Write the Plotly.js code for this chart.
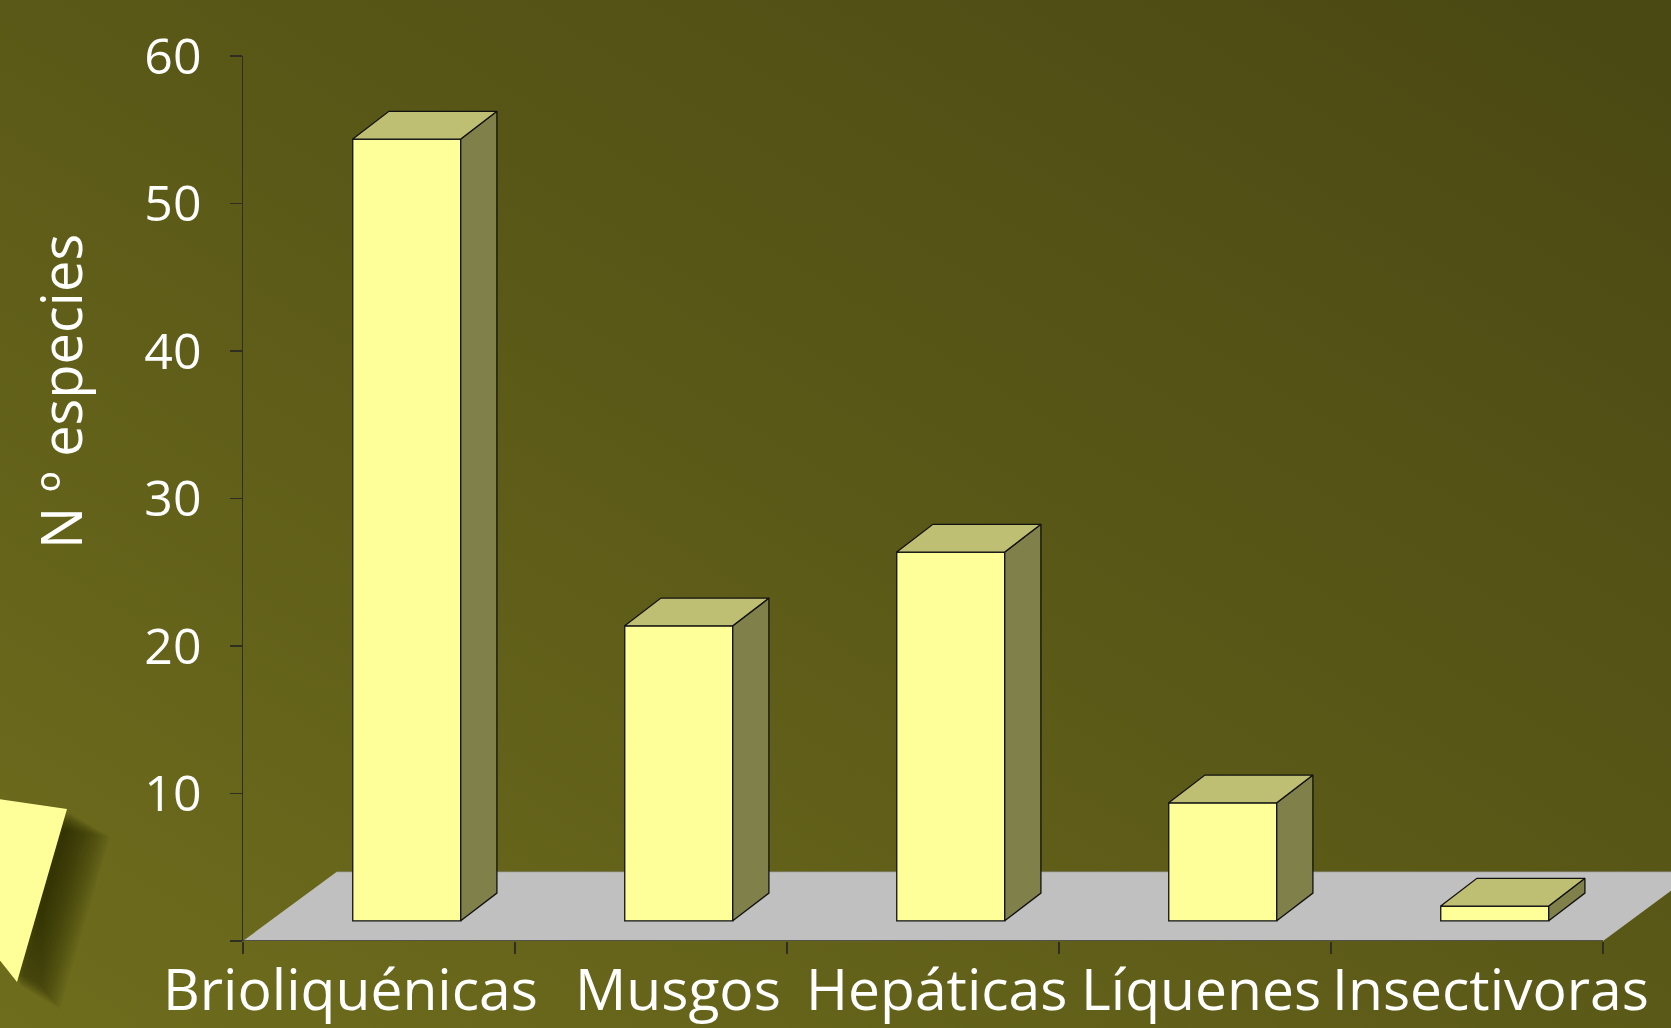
<!DOCTYPE html>
<html>
<head>
<meta charset="utf-8">
<script src="https://cdn.plot.ly/plotly-3.0.1.min.js"></script>
<style>
  html, body { margin:0; padding:0; width:1671px; height:1028px; overflow:hidden; }
  body { background: linear-gradient(to top right, #6e6d1d 0%, #5b5917 50%, #4a4813 100%); }
  #chart { width:1671px; height:1028px; }
</style>
</head>
<body>
<div id="chart"></div>
<script>
// ---- data ----
const categories = ['Brioliquénicas', 'Musgos', 'Hepáticas', 'Líquenes', 'Insectivoras'];
const values = [53, 20, 25, 8, 1];
const yTickVals = [0, 10, 20, 30, 40, 50, 60];
const yTickText = ['', '10', '20', '30', '40', '50', '60'];
const yTitle = 'N º especies';

// ---- 3-D look (oblique projection, in axis units) ----
const G = { frontDx: 0.102, frontDy: 1.37, depthDx: 0.133, depthDy: 1.88, barW: 0.397, floorDx: 0.345, floorDy: 4.70 };
const C = { front: '#FFFF99', top: '#BFBF73', side: '#80804A', floor: '#C0C0C0', edge: '#111111', axis: '#2e2e22' };
const M = { l: 243, r: 0, t: 56, b: 87 };
const W = 1671, H = 1028;
const xMin = -0.5, xMax = -0.5 + (W - M.l - M.r) / 272;
// category label nudges (px), as in the original slide
const labelNudge = [-29, 27, 13, 6, 23];

const idx = categories.map((c, i) => i);

// top & side faces as multi-polygon fills
const topX = [], topY = [], sideX = [], sideY = [];
idx.forEach(i => {
  const v = values[i];
  const xl = i - G.barW / 2 + G.frontDx, xr = i + G.barW / 2 + G.frontDx;
  const yb = G.frontDy, yt = G.frontDy + v;
  topX.push(xl, xr, xr + G.depthDx, xl + G.depthDx, xl, null);
  topY.push(yt, yt, yt + G.depthDy, yt + G.depthDy, yt, null);
  sideX.push(xr, xr + G.depthDx, xr + G.depthDx, xr, xr, null);
  sideY.push(yb, yb + G.depthDy, yt + G.depthDy, yt, yb, null);
});

const traces = [
  {
    type: 'bar',
    x: idx.map(i => i + G.frontDx),
    y: values,
    base: G.frontDy,
    width: G.barW,
    marker: { color: C.front, line: { color: C.edge, width: 1.3 } },
    hoverinfo: 'skip', showlegend: false
  },
  {
    type: 'scatter', mode: 'lines', x: sideX, y: sideY, fill: 'toself',
    fillcolor: C.side, line: { color: C.edge, width: 1.3 }, hoverinfo: 'skip', showlegend: false
  },
  {
    type: 'scatter', mode: 'lines', x: topX, y: topY, fill: 'toself',
    fillcolor: C.top, line: { color: C.edge, width: 1.3 }, hoverinfo: 'skip', showlegend: false
  }
];

// decoration (slide ornament) in pixel coords -> paper coords
const pw = W - M.l - M.r, ph = H - M.t - M.b;
const px = x => (x - M.l) / pw;
const py = y => (H - M.b - y) / ph;
const tri = [[-2, 799], [67, 809], [17, 982], [-2, 958]];
function triPath(dx, dy) {
  return tri.map((p, k) => (k ? 'L ' : 'M ') + px(p[0] + dx).toFixed(5) + ',' + py(p[1] + dy).toFixed(5)).join(' ') + ' Z';
}
const shapes = [
  {
    type: 'path', xref: 'x', yref: 'y', layer: 'below',
    path: `M ${xMin},0 L ${xMin + 5},0 L ${xMin + 5 + G.floorDx},${G.floorDy} L ${xMin + G.floorDx},${G.floorDy} Z`,
    fillcolor: C.floor, line: { width: 0 }
  },
  {
    type: 'line', xref: 'x', yref: 'y', layer: 'below',
    x0: xMin + G.floorDx, y0: G.floorDy, x1: xMin + 5 + G.floorDx, y1: G.floorDy,
    line: { color: 'rgba(120,120,100,0.7)', width: 1 }
  },
  {
    type: 'line', xref: 'x', yref: 'y', layer: 'above',
    x0: xMin, y0: 0, x1: xMin + 5, y1: 0,
    line: { color: C.axis, width: 1.5 }
  }
];
for (let k = 18; k >= 1; k--) {
  shapes.push({ type: 'path', xref: 'paper', yref: 'paper', layer: 'below', path: triPath(3 + k * 2.2, 4 + k * 1.3),
    fillcolor: 'rgba(30,28,6,0.06)', line: { width: 0 } });
}
shapes.push({ type: 'path', xref: 'paper', yref: 'paper', layer: 'below', path: triPath(0, 0),
  fillcolor: '#FFFF99', line: { width: 0 } });

const font = 'Open Sans, Noto Sans, sans-serif';

const annotations = [{
  xref: 'paper', yref: 'paper', x: px(60), y: py(392),
  text: yTitle, textangle: -90, showarrow: false,
  xanchor: 'center', yanchor: 'middle',
  font: { family: font, size: 56, color: '#FFFFFF' }
}];
idx.forEach(i => annotations.push({
  xref: 'x', yref: 'y', x: i, y: 0, xshift: labelNudge[i], yshift: -6,
  xanchor: 'center', yanchor: 'top', showarrow: false,
  text: categories[i],
  font: { family: font, size: 57, color: '#FFFFFF' }
}));

const layout = {
  width: W, height: H,
  margin: M,
  paper_bgcolor: 'rgba(0,0,0,0)',
  plot_bgcolor: 'rgba(0,0,0,0)',
  showlegend: false,
  bargap: 0,
  xaxis: {
    range: [xMin, xMax],
    tickmode: 'array', tickvals: idx, ticktext: categories,
    showticklabels: false,
    ticks: '', showgrid: false, zeroline: false, showline: false,
    minor: { tick0: -0.5, dtick: 1, ticks: 'outside', ticklen: 12, tickwidth: 1.5, tickcolor: C.axis, showgrid: false },
    fixedrange: true
  },
  yaxis: {
    range: [0, 60],
    tickmode: 'array', tickvals: yTickVals, ticktext: yTickText,
    ticks: 'outside', ticklen: 12, tickwidth: 1.5, tickcolor: C.axis,
    showline: true, linecolor: C.axis, linewidth: 1.5,
    showgrid: false, zeroline: false,
    tickfont: { family: font, size: 50, color: '#FFFFFF' },
    ticklabelstandoff: 18,
    fixedrange: true
  },
  annotations: annotations,
  shapes: shapes
};

Plotly.newPlot('chart', traces, layout, { displayModeBar: false, staticPlot: true });
</script>
</body>
</html>
